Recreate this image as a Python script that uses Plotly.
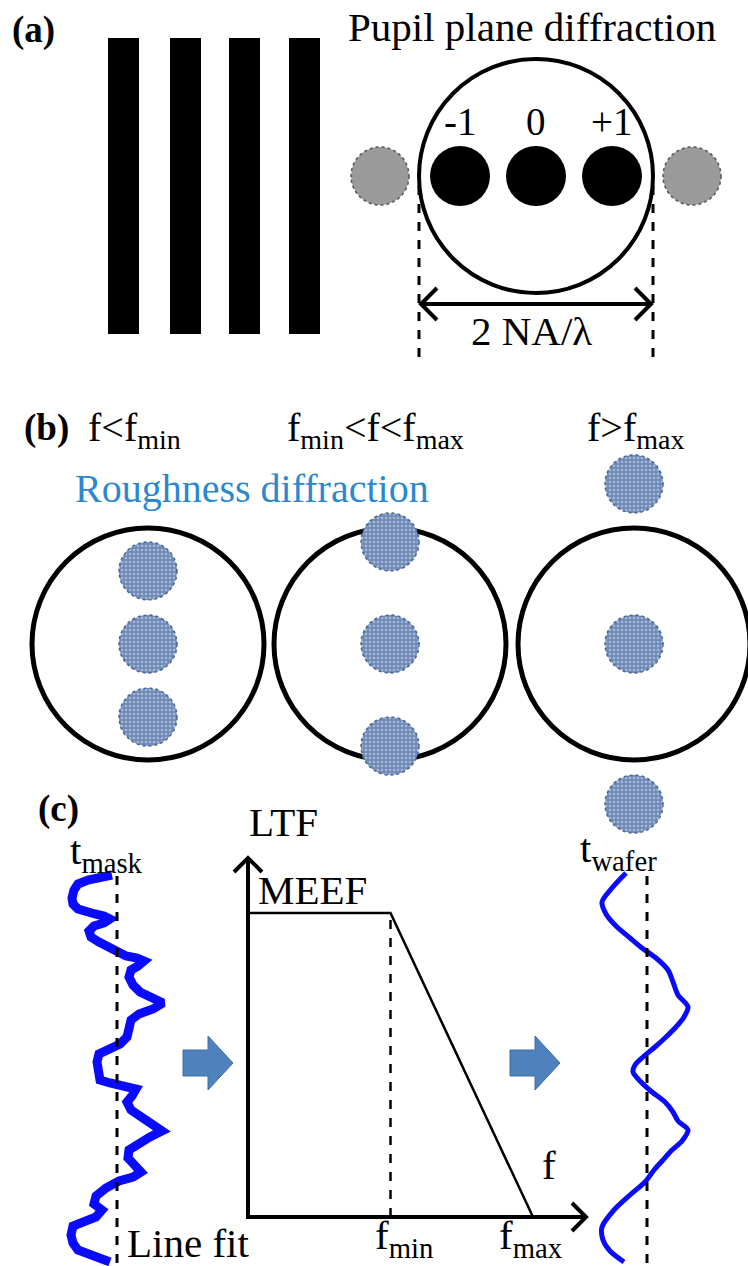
import numpy as np
import plotly.graph_objects as go

W, H = 748, 1266
SERIF = "Liberation Serif, 'Times New Roman', serif"
INK = "black"
PROFILE_BLUE = "#0a0aff"
DOT_FILL = "#6f8ab6"
DOT_EDGE = "#4a6899"
ARROW_BLUE = "#4f81bd"
LABEL_BLUE = "#2b88cf"
FS = 40          # body text size
FS_TAG = 37      # panel tags (a), (b), (c)

# ---- (a) grating and its pupil-plane orders ----
order_labels = ["-1", "0", "+1"]
order_index = [-1, 0, 1]
evanescent_index = [-2, 2]          # orders falling outside the pupil

# ---- (b) roughness diffraction for three frequency cases ----
case_labels = ["f<f<sub>min</sub>",
               "f<sub>min</sub><f<f<sub>max</sub>",
               "f>f<sub>max</sub>"]
# first-order offset of the roughness spectrum, in units of the pupil radius
roughness_offset = [0.63, 0.88, 1.38]

# ---- (c) line transfer function ----
ltf_f = [0.0, 1.0, 2.0]             # f = 0, f_min, f_max
ltf_val = [1.0, 1.0, 0.0]           # MEEF plateau then roll-off to zero

# mask edge profile (x, y) and wafer edge profile (x, y)
mask_x = [112, 100, 88, 78, 74, 72, 73, 78, 86, 95, 104, 110, 104, 94, 89, 91, 99, 108,
          116, 126, 137, 144, 138, 131, 129, 133, 140, 150, 163, 153, 139, 131, 128, 127,
          120, 108, 99, 97, 98, 100, 110, 122, 136, 132, 127, 131, 141, 152, 162, 150,
          138, 129, 128, 134, 141, 133, 119, 106, 96, 94, 102, 96, 84, 73, 71, 73, 78,
          90, 103, 110]
mask_y = [875, 877, 880, 884, 890, 898, 904, 909, 912, 914, 916, 919, 923, 926, 931, 937,
          942, 947, 952, 956, 958, 961, 966, 970, 977, 985, 992, 997, 1003, 1009, 1014,
          1020, 1028, 1037, 1044, 1050, 1054, 1062, 1072, 1080, 1083, 1085, 1089, 1096,
          1102, 1110, 1117, 1124, 1131, 1137, 1143, 1150, 1158, 1165, 1172, 1177, 1181,
          1188, 1196, 1204, 1210, 1217, 1221, 1226, 1235, 1243, 1250, 1255, 1259, 1262]
wafer_x = [626, 612, 602, 606, 616, 630, 642, 656, 668, 673, 678, 688, 684, 676, 666, 655,
           643, 635, 633, 641, 652, 665, 673, 678, 688, 682, 671, 663, 654, 645, 630, 614,
           602, 603, 610, 624]
wafer_y = [873, 888, 902, 914, 926, 938, 948, 958, 970, 982, 995, 1007, 1017, 1027, 1037,
           1047, 1057, 1065, 1072, 1082, 1092, 1102, 1112, 1121, 1130, 1141, 1151, 1160,
           1170, 1182, 1195, 1210, 1227, 1240, 1251, 1262]

fig = go.Figure()
shapes = []
ann = []


def disc(cx, cy, r, n=90):
    t = np.linspace(0, 2 * np.pi, n)
    return cx + r * np.cos(t), cy + r * np.sin(t)


def text(x, y, s, size=FS, color=INK, xanchor="left", bold=False):
    ann.append(dict(x=x, y=y, xref="x", yref="y", text=f"<b>{s}</b>" if bold else s,
                    showarrow=False, xanchor=xanchor, yanchor="middle",
                    font=dict(family=SERIF, size=size, color=color)))


def line(x0, y0, x1, y1, width=3, dash="solid", color=INK):
    shapes.append(dict(type="line", x0=x0, y0=y0, x1=x1, y1=y1, xref="x", yref="y",
                       line=dict(color=color, width=width, dash=dash)))


def chevron(tx, ty, dx, dy, width=4):
    # open arrow head with its tip at (tx, ty), opening towards (dx, dy)
    px, py = -dy, dx
    path = (f"M {tx + dx + px} {ty + dy + py} L {tx} {ty} "
            f"L {tx + dx - px} {ty + dy - py}")
    shapes.append(dict(type="path", path=path, xref="x", yref="y",
                       line=dict(color=INK, width=width)))


def block_arrow(x0, cy):
    pts = [(x0, cy - 13), (x0 + 25, cy - 13), (x0 + 25, cy - 27), (x0 + 50, cy),
           (x0 + 25, cy + 27), (x0 + 25, cy + 13), (x0, cy + 13)]
    path = "M " + " L ".join(f"{px} {py}" for px, py in pts) + " Z"
    shapes.append(dict(type="path", path=path, xref="x", yref="y",
                       fillcolor=ARROW_BLUE, line=dict(color="#3d6ea8", width=1)))


def rough_dot(cx, cy, r=29):
    xs, ys = disc(cx, cy, r)
    fig.add_trace(go.Scatter(
        x=xs, y=ys, mode="lines", fill="toself", hoverinfo="skip", showlegend=False,
        fillcolor=DOT_FILL,
        fillpattern=dict(shape=".", bgcolor=DOT_FILL, fgcolor="#dfe6f1", size=4,
                         solidity=0.35),
        line=dict(color=DOT_EDGE, width=1.6, dash="dot"), xaxis="x", yaxis="y"))


# ================= (a) =================
text(10, 30, "(a)", size=FS_TAG, bold=True)
for left in [108, 170, 229, 289]:
    shapes.append(dict(type="rect", x0=left, x1=left + 31, y0=38, y1=334, xref="x",
                       yref="y", fillcolor=INK, line=dict(width=0)))

text(532, 27, "Pupil plane diffraction", size=41, xanchor="center")
pcx, pcy, pr = 536, 176, 117
order_step = 76
shapes.append(dict(type="circle", x0=pcx - pr, x1=pcx + pr, y0=pcy - pr, y1=pcy + pr,
                   xref="x", yref="y", line=dict(color=INK, width=4), layer="below"))
for k, lab in zip(order_index, order_labels):
    cx = pcx + k * order_step
    shapes.append(dict(type="circle", x0=cx - 30, x1=cx + 30, y0=pcy - 30, y1=pcy + 30,
                       xref="x", yref="y", fillcolor=INK, line=dict(width=0)))
    text(cx, 121, lab, xanchor="center", size=39)
for k in evanescent_index:
    cx = pcx + k * order_step + (-4 if k < 0 else 4)
    shapes.append(dict(type="circle", x0=cx - 29, x1=cx + 29, y0=pcy - 29, y1=pcy + 29,
                       xref="x", yref="y", fillcolor="#9a9a9a",
                       line=dict(color="#555555", width=1.5, dash="dot")))

for xd in [pcx - pr, pcx + pr]:
    line(xd, 186, xd, 357, width=3, dash="dash")
line(pcx - pr + 2, 304, pcx + pr - 2, 304, width=4)
chevron(pcx - pr + 2, 304, 16, 0)
chevron(pcx + pr - 2, 304, -16, 0)
text(pcx - 5, 331, "2 NA/λ", xanchor="center", size=41)

# ================= (b) =================
text(22, 428, "(b)", size=FS_TAG, bold=True)
text(86, 430, case_labels[0])
text(375, 430, case_labels[1], xanchor="center")
text(635, 430, case_labels[2], xanchor="center")
text(73, 488, "Roughness diffraction", color=LABEL_BLUE, size=40)

big_r = 116
big_cy = 644
for cx, off in zip([148, 390, 634], roughness_offset):
    shapes.append(dict(type="circle", x0=cx - big_r, x1=cx + big_r, y0=big_cy - big_r,
                       y1=big_cy + big_r, xref="x", yref="y",
                       line=dict(color=INK, width=5), layer="below"))
    for k in order_index:
        rough_dot(cx, big_cy + k * off * big_r)

# ================= (c) =================
text(36, 809, "(c)", size=FS_TAG, bold=True)
text(68, 853, "t<sub>mask</sub>", size=41)
text(578, 851, "t<sub>wafer</sub>", size=41)

fig.add_trace(go.Scatter(x=mask_x, y=mask_y, mode="lines", hoverinfo="skip",
                         showlegend=False, line=dict(color=PROFILE_BLUE, width=9)))
fig.add_trace(go.Scatter(x=wafer_x, y=wafer_y, mode="lines", hoverinfo="skip",
                         showlegend=False,
                         line=dict(color=PROFILE_BLUE, width=5, shape="spline",
                                   smoothing=0.8)))
line(117, 876, 117, 1266, width=3, dash="dash")
line(647, 876, 647, 1266, width=3, dash="dash")
text(125, 1243, "Line fit", size=41)

block_arrow(183, 1063)
block_arrow(510, 1063)

# LTF diagram drawn on its own axes
ox, oy = 248, 1217          # origin in page pixels
px_per_f, px_per_ltf = 142.5, 304.0
f_max_axis, ltf_max_axis = 2.4, 1.2
x2_dom = [ox / W, (ox + f_max_axis * px_per_f) / W]
y2_dom = [(H - oy) / H, (H - oy + ltf_max_axis * px_per_ltf) / H]

fig.add_trace(go.Scatter(x=ltf_f, y=ltf_val, mode="lines", hoverinfo="skip",
                         showlegend=False, line=dict(color=INK, width=2.5),
                         xaxis="x2", yaxis="y2"))
fig.add_trace(go.Scatter(x=[ltf_f[1], ltf_f[1]], y=[0, ltf_val[1]], mode="lines",
                         hoverinfo="skip", showlegend=False,
                         line=dict(color=INK, width=2.5, dash="dash"),
                         xaxis="x2", yaxis="y2"))

line(ox, oy + 2, ox, 858, width=4)
line(ox - 2, oy, 586, oy, width=4)
chevron(ox, 858, 0, 14)
chevron(586, oy, -14, 0)
text(247, 822, "LTF", size=41)
text(256, 890, "MEEF", size=41)
text(549, 1165, "f", size=41, xanchor="center")
text(ox + ltf_f[1] * px_per_f + 13, 1238, "f<sub>min</sub>", size=41, xanchor="center")
text(ox + ltf_f[2] * px_per_f - 3, 1238, "f<sub>max</sub>", size=41, xanchor="center")

hidden = dict(visible=False, showgrid=False, zeroline=False, fixedrange=True)
fig.update_layout(
    width=W, height=H, margin=dict(l=0, r=0, t=0, b=0),
    paper_bgcolor="white", plot_bgcolor="rgba(0,0,0,0)", showlegend=False,
    font=dict(family=SERIF),
    xaxis=dict(range=[0, W], domain=[0, 1], **hidden),
    yaxis=dict(range=[H, 0], domain=[0, 1], **hidden),
    xaxis2=dict(range=[0, f_max_axis], domain=x2_dom, anchor="y2", **hidden),
    yaxis2=dict(range=[0, ltf_max_axis], domain=y2_dom, anchor="x2", **hidden),
    shapes=shapes, annotations=ann,
)
fig.write_html("out.html", config={"displayModeBar": False})
